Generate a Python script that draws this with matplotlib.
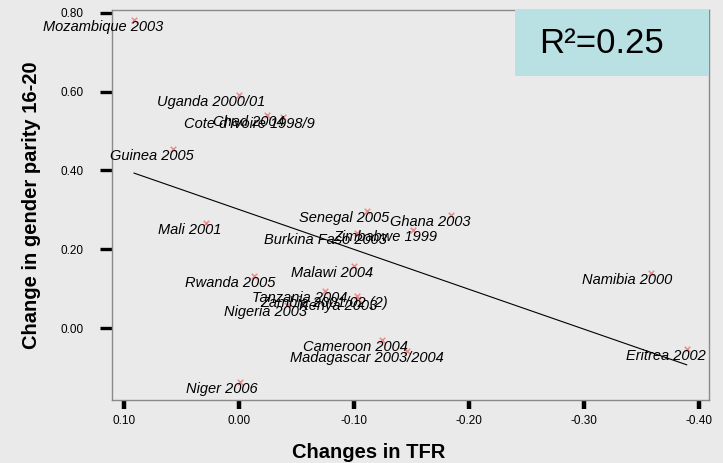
import matplotlib
matplotlib.use('Agg')
import matplotlib.pyplot as plt
import numpy as np

plt.rcParams['font.family'] = ['Liberation Sans', 'DejaVu Sans']

countries = ['Mozambique 2003', 'Uganda 2000/01', 'Chad 2004', "Cote d'Ivoire 1998/9",
             'Guinea 2005', 'Mali 2001', 'Senegal 2005', 'Ghana 2003', 'Zimbabwe 1999',
             'Burkina Faso 2003', 'Malawi 2004', 'Rwanda 2005', 'Tanzania 2004',
             'Zambia 2001/02 (2)', 'Kenya 2003', 'Nigeria 2003', 'Cameroon 2004',
             'Madagascar 2003/2004', 'Niger 2006', 'Namibia 2000', 'Eritrea 2002']
tfr_change = [0.0915, 0.000, -0.0242, -0.0381, 0.0573, 0.0286, -0.1114, -0.1838, -0.1508,
              -0.1024, -0.0995, -0.0125, -0.0743, -0.1027, -0.1036, -0.0412, -0.1244,
              -0.1457, -0.0007, -0.358, -0.389]
parity_change = [0.782, 0.592, 0.541, 0.5365, 0.455, 0.266, 0.298, 0.2865, 0.250,
                 0.241, 0.158, 0.131, 0.093, 0.082, 0.073, 0.058, -0.0297,
                 -0.058, -0.137, 0.139, -0.053]
# fit line as shown in the chart
fit_intercept = 0.3006
fit_slope = 1.012
r2_text = 'R\u00b2=0.25'
xticks = [0.10, 0.00, -0.10, -0.20, -0.30, -0.40]
yticks = [0.00, 0.20, 0.40, 0.60, 0.80]

bg = '#eaeaea'
x = np.array(tfr_change)
y = np.array(parity_change)

fig = plt.figure(figsize=(7.23, 4.63), dpi=100, facecolor=bg)
ax = fig.add_axes([0.1555, 0.135, 0.8245, 0.8435], facecolor=bg)

xs = np.array([x.max(), x.min()])
ax.plot(xs, fit_intercept + fit_slope * xs, color='black', lw=0.8)

ax.scatter(x, y, marker='x', s=16, color='#f08a8a', linewidths=1.1, zorder=3)

anns = []
for name, xi, yi in zip(countries, x, y):
    a = ax.annotate(name, (xi, yi), xytext=(0, -7), textcoords='offset pixels',
                    ha='center', va='center', fontsize=10.5, style='italic',
                    color='black', zorder=4)
    anns.append(a)

ax.set_xlim(0.1103, -0.408)
ax.set_ylim(-0.1836, 0.807)
ax.set_xticks(xticks)
ax.set_yticks(yticks)
ax.set_xticklabels([f'{v:.2f}' for v in xticks])
ax.set_yticklabels([f'{v:.2f}' for v in yticks])
ax.tick_params(axis='y', direction='out', length=8.5, width=2.4, pad=12, labelsize=8.5)
ax.tick_params(axis='x', direction='out', length=6.5, width=3.2, pad=4, labelsize=8.5)

for s in ax.spines.values():
    s.set_color('#8a8a8a')
    s.set_linewidth(1.0)

ax.set_ylabel('Change in gender parity 16-20', fontsize=14.5, fontweight='bold', va='center')
ax.yaxis.set_label_coords(-0.136, 0.5)
ax.set_xlabel('Changes in TFR', fontsize=14.5, fontweight='bold', va='center')
ax.xaxis.set_label_coords(0.43, -0.132)

# R squared box
ax.add_patch(plt.Rectangle((0.675, 0.832), 0.325, 0.168, transform=ax.transAxes,
                           facecolor='#b9e0e3', edgecolor='none', zorder=5))
ax.text(0.82, 0.913, r2_text, transform=ax.transAxes, ha='center', va='center',
        fontsize=25, zorder=6)

# place labels so the point sits at ~76% of the label width
fig.canvas.draw()
r = fig.canvas.get_renderer()
for a in anns:
    w = a.get_window_extent(r).width
    a.xyann = (-0.26 * w, -7)

fig.savefig('out.png', dpi=100, facecolor=bg)
